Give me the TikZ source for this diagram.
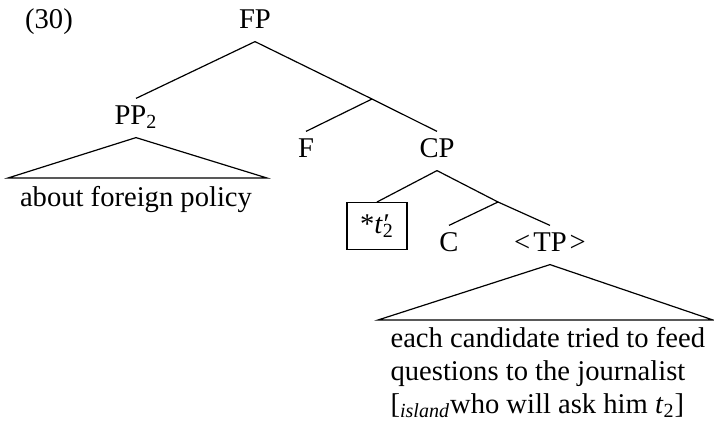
\documentclass[tikz,border=0pt]{standalone}
\usepackage{fontspec}
\setmainfont{Liberation Serif}
\usepackage{tikz}
\newcommand{\cat}[4]{\node[cat] (#1) at ( #2 , #3 ) {#4};}
\newcommand{\junct}[3]{\coordinate (#1) at ( #2 , #3 );}
\newcommand{\branch}[2]{\draw (#1) -- (#2);}
\newcommand{\roof}[3]{\draw (#1) -- (#2) -- (#3) -- cycle;}
\newcommand{\primed}[2]{\textit{#1}\makebox[0pt][l]{\kern0.3pt\char"2032}\textsubscript{#2}}

\begin{document}
\begin{tikzpicture}[x=0.5pt,y=-0.5pt,line width=0.6pt,
    font=\fontsize{14.3}{16.5}\selectfont,
    cat/.style={anchor=base,inner xsep=2pt,inner ysep=3pt,text height=9.5pt,text depth=3.5pt},
    yield/.style={anchor=base,inner sep=0pt,align=left}]
        \useasboundingbox (0,0) rectangle (714,429);

        % example number
        \cat{ex}{49}{28}{(30)}

        % categories
        \cat{FP}{255}{28}{FP}
        \cat{PP}{136}{124}{PP\textsubscript{2}}
        \cat{F}{306}{157}{F}
        \cat{CP}{437}{157}{CP}
        \cat{C}{449}{251}{C}
        \cat{TP}{550}{251}{\textless\kern1.5pt TP\kern1.5pt\textgreater}
        \node[draw,anchor=north,inner sep=0pt,minimum width=30pt,minimum height=23.5pt] (trace) at (377,202) {*\primed{t}{2}};

        % intermediate projections
        \junct{Fbar}{372}{99}
        \junct{Cbar}{498}{202}

        % branches
        \branch{FP.south}{PP.north}
        \branch{FP.south}{Fbar}
        \branch{Fbar}{F.north}
        \branch{Fbar}{CP.north}
        \branch{CP.south}{trace.north}
        \branch{CP.south}{Cbar}
        \branch{Cbar}{C.north}
        \branch{Cbar}{TP.north}

        % roofs
        \junct{PPl}{8}{178}
        \junct{PPr}{267}{178}
        \roof{PP.south}{PPl}{PPr}
        \junct{TPl}{378}{320}
        \junct{TPr}{713}{320}
        \roof{TP.south}{TPl}{TPr}

        % yields (base = last line)
        \node[yield] (PPtext) at (136,206) {about foreign policy};
        \node[yield,anchor=base west] (TPtext) at (390,413) {each candidate tried to feed\\
            questions to the journalist\\
            {[}\textsubscript{\textit{island}}who will ask him \textit{t}\textsubscript{2}]};
\end{tikzpicture}
\end{document}
